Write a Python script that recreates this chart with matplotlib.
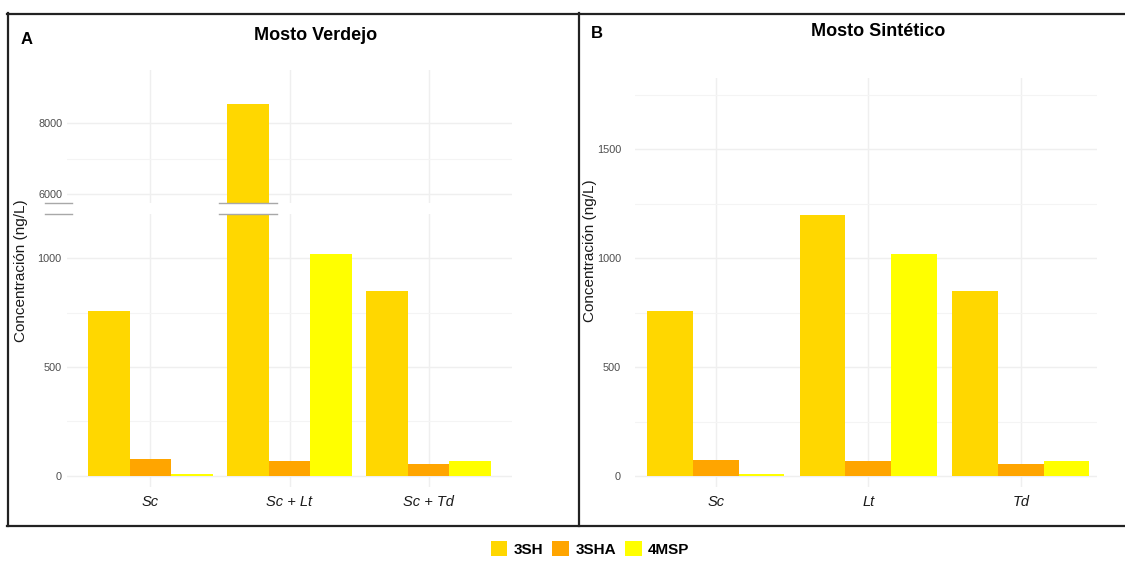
import matplotlib
matplotlib.use("Agg")
import matplotlib.pyplot as plt
import numpy as np
from matplotlib.patches import Patch
from matplotlib.lines import Line2D

plt.rcParams['font.family'] = ['Liberation Sans', 'DejaVu Sans']

# data
compounds = ["3SH", "3SHA", "4MSP"]
colors = ["#FFD700", "#FFA500", "#FFFF00"]
verdejo_cats = ["Sc", "Sc + Lt", "Sc + Td"]
sintetico_cats = ["Sc", "Lt", "Td"]
verdejo_3SH = [759, 8510, 848]
verdejo_3SHA = [75, 69, 55]
verdejo_4MSP = [8, 1020, 69]
sintetico_3SH = [757, 1196, 848]
sintetico_3SHA = [75, 69, 55]
sintetico_4MSP = [8, 1019, 69]

W, H = 1125, 561
fig = plt.figure(figsize=(W / 100, H / 100), dpi=100)


def box(x0, y0, x1, y1):
    # pixel box (top-left origin) -> figure fraction
    return [x0 / W, 1 - y1 / H, (x1 - x0) / W, (y1 - y0) / H]


def style(ax, major, minor, ylim, xlim):
    ax.set_xlim(*xlim)
    ax.set_ylim(*ylim)
    ax.set_yticks(major)
    ax.set_yticks(minor, minor=True)
    ax.set_xticks([1, 2, 3])
    ax.grid(True, which='major', color='#EFEFEF', lw=1.0)
    ax.grid(True, which='minor', color='#F4F4F4', lw=0.8)
    ax.set_axisbelow(True)
    for s in ax.spines.values():
        s.set_visible(False)
    ax.tick_params(which='both', length=0)
    ax.tick_params(axis='y', labelsize=7.8, labelcolor='#4D4D4D')
    ax.tick_params(axis='x', pad=6)


def bars(ax, series):
    x = np.arange(1, 4)
    for i, (vals, c) in enumerate(zip(series, colors)):
        ax.bar(x + (i - 1) * 0.3, vals, width=0.3, color=c, edgecolor='none')


# Panel A, broken axis
ax_up = fig.add_axes(box(67, 70, 512, 203.3))
ax_lo = fig.add_axes(box(67, 214, 512, 487))
series_v = [verdejo_3SH, verdejo_3SHA, verdejo_4MSP]
bars(ax_up, series_v)
bars(ax_lo, series_v)
style(ax_up, [6000, 8000], [7000], (5749, 9472), (0.4, 3.6))
style(ax_lo, [0, 500, 1000], [250, 750], (-52, 1204), (0.4, 3.6))
ax_up.tick_params(axis='y', pad=3)
ax_lo.tick_params(axis='y', pad=4)
ax_up.set_xticklabels([])
ax_lo.set_xticklabels(verdejo_cats, style='italic', fontsize=10.5, color='#1A1A1A')

# break marks
for y in (203.3, 214):
    for x0, x1 in ((45, 72), (219, 277)):
        fig.add_artist(Line2D([x0 / W, x1 / W], [1 - y / H, 1 - y / H],
                              color='#A8A8A8', lw=1.0))

# Panel B
ax_b = fig.add_axes(box(635, 78, 1097, 487))
bars(ax_b, [sintetico_3SH, sintetico_3SHA, sintetico_4MSP])
style(ax_b, [0, 500, 1000, 1500], [250, 750, 1250, 1750], (-50, 1826), (0.47, 3.5))
ax_b.tick_params(axis='y', pad=10)
ax_b.set_xticklabels(sintetico_cats, style='italic', fontsize=10.5, color='#1A1A1A')

# titles and labels
fig.text(316 / W, 1 - 36 / H, "Mosto Verdejo", ha='center', va='center',
         fontsize=13, fontweight='bold')
fig.text(878 / W, 1 - 32 / H, "Mosto Sintético", ha='center', va='center',
         fontsize=13, fontweight='bold')
fig.text(27 / W, 1 - 40 / H, "A", ha='center', va='center', fontsize=12, fontweight='bold')
fig.text(597 / W, 1 - 33 / H, "B", ha='center', va='center', fontsize=12, fontweight='bold')
fig.text(21 / W, 1 - 271 / H, "Concentración (ng/L)", rotation=90,
         ha='center', va='center', fontsize=11, color='#1A1A1A')
fig.text(590 / W, 1 - 251 / H, "Concentración (ng/L)", rotation=90,
         ha='center', va='center', fontsize=11, color='#1A1A1A')

# panel borders
for xs, ys in (([7, 1125], [13.5, 13.5]), ([7, 1125], [525.5, 525.5]),
               ([8, 8], [13, 526]), ([579, 579], [13, 526])):
    fig.add_artist(Line2D([x / W for x in xs], [1 - y / H for y in ys],
                          color='#222222', lw=1.6))

# legend
handles = [Patch(facecolor=c, edgecolor='none', label=n) for c, n in zip(colors, compounds)]
leg = fig.legend(handles=handles, loc='center', bbox_to_anchor=(590 / W, 1 - 549 / H),
                 ncol=3, frameon=False, handlelength=1.1, handleheight=1.1,
                 handletextpad=0.4, columnspacing=0.6, fontsize=11)
for t in leg.get_texts():
    t.set_fontweight('bold')

fig.savefig("out.png", dpi=100)
